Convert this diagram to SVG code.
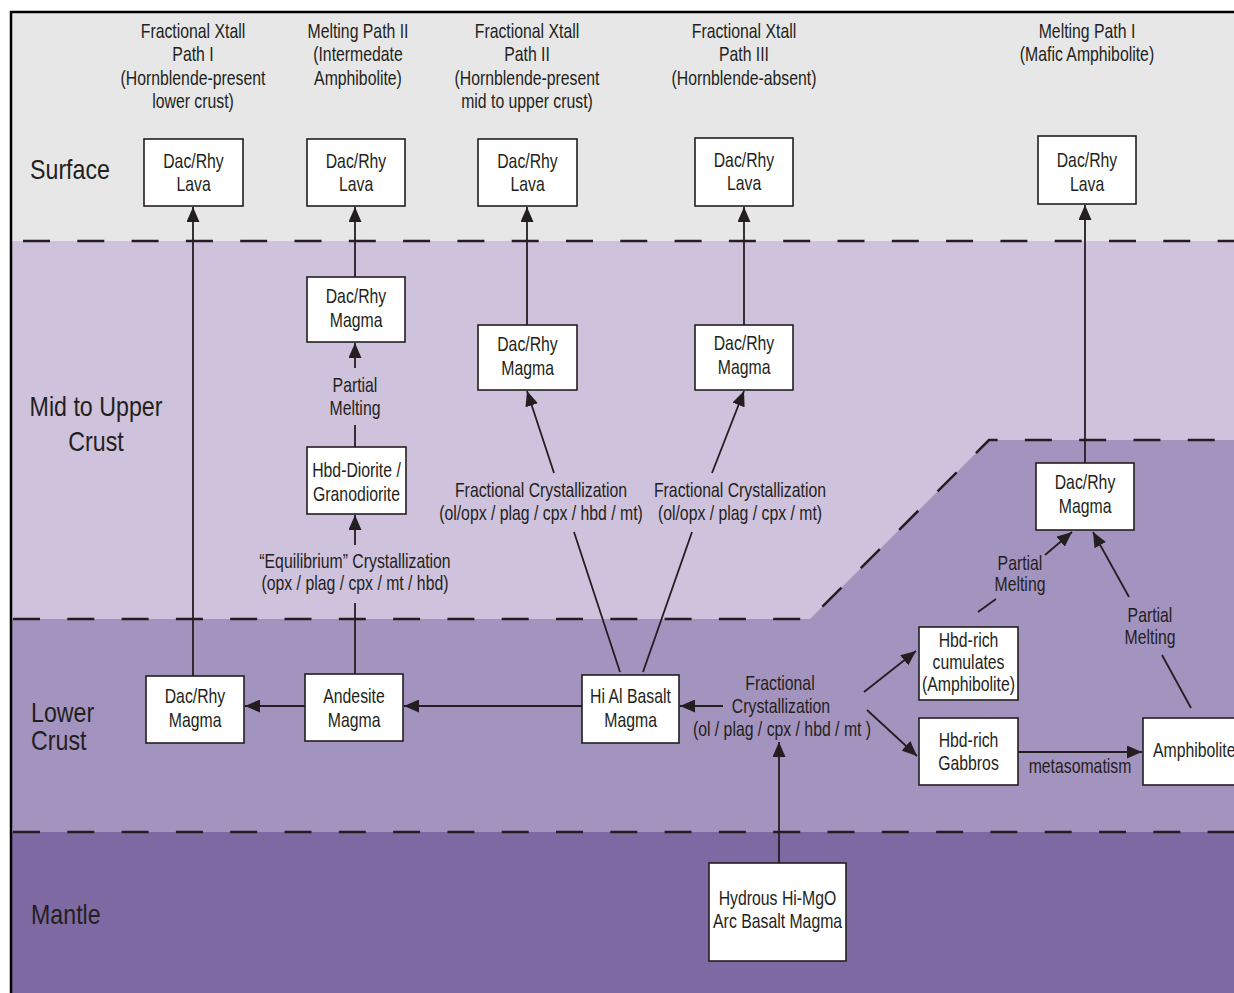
<svg xmlns="http://www.w3.org/2000/svg" width="1234" height="993" viewBox="0 0 1234 993">
<defs>
<style>
text{font-family:"Liberation Sans","Arial",sans-serif;font-size:20px;fill:#231f20;text-anchor:middle;transform-box:fill-box;transform-origin:50% 50%;transform:scaleX(0.79)}
.band{font-size:27px;text-anchor:start;transform-origin:0% 50%;transform:scaleX(0.86)}
.bandc{font-size:27px;transform:scaleX(0.86)}
.ls{text-anchor:start;transform-origin:0% 50%}
.box{fill:#fff;stroke:#231f20;stroke-width:1.6}
.c{fill:none;stroke:#231f20;stroke-width:1.8}
.a{marker-end:url(#ah)}
.dash{fill:none;stroke:#231f20;stroke-width:2.5;stroke-dasharray:27 27.3}
</style>
<marker id="ah" markerUnits="userSpaceOnUse" markerWidth="16" markerHeight="13" refX="15" refY="6.5" orient="auto">
<path d="M0,0 L15,6.5 L0,13 Z" fill="#231f20"/>
</marker>
</defs>
<rect x="0" y="0" width="1234" height="993" fill="#fff"/>
<g id="bands">
<rect x="11" y="12" width="1223" height="229" fill="#e7e7e7"/>
<rect x="11" y="241" width="1223" height="378" fill="#cfc2dd"/>
<path d="M11,619 L810,619 L989,440 L1234,440 L1234,832 L11,832 Z" fill="#a393bf"/>
<rect x="11" y="832" width="1223" height="161" fill="#7e69a3"/>
<path class="dash" d="M23,241 L1234,241"/>
<path class="dash" d="M13,619 L810,619 L989,440 L1234,440"/>
<path class="dash" d="M13,832 L1234,832"/>
<path d="M11,993 L11,12 L1234,12" fill="none" stroke="#000" stroke-width="2.5"/>
<text class="band" x="30" y="179">Surface</text>
<text class="bandc" x="96" y="416">Mid to Upper</text>
<text class="bandc" x="96" y="451">Crust</text>
<text class="band" x="31" y="722">Lower</text>
<text class="band" x="31" y="750">Crust</text>
<text class="band" x="31" y="924">Mantle</text>
</g>
<g id="headers">
<text x="193" y="38">Fractional Xtall</text>
<text x="193" y="61">Path I</text>
<text x="193" y="85">(Hornblende-present</text>
<text x="193" y="108">lower crust)</text>
<text x="358" y="38">Melting Path II</text>
<text x="358" y="61">(Intermedate</text>
<text x="358" y="85">Amphibolite)</text>
<text x="527" y="38">Fractional Xtall</text>
<text x="527" y="61">Path II</text>
<text x="527" y="85">(Hornblende-present</text>
<text x="527" y="108">mid to upper crust)</text>
<text x="744" y="38">Fractional Xtall</text>
<text x="744" y="61">Path III</text>
<text x="744" y="85">(Hornblende-absent)</text>
<text x="1087" y="38">Melting Path I</text>
<text x="1087" y="61">(Mafic Amphibolite)</text>
</g>
<g id="connectors">
<path class="c a" d="M193,676 L193,207"/>
<path class="c a" d="M355,277 L355,207"/>
<path class="c a" d="M355,368 L355,343"/>
<path class="c" d="M355,425 L355,447"/>
<path class="c a" d="M355,545 L355,515"/>
<path class="c" d="M355,603 L355,674"/>
<path class="c a" d="M305,706 L245,706"/>
<path class="c a" d="M582,706 L404,706"/>
<path class="c a" d="M723,706 L680,706"/>
<path class="c a" d="M779,863 L779,742"/>
<path class="c" d="M620,672 L574,532"/>
<path class="c a" d="M554,473 L527,391"/>
<path class="c" d="M643,672 L692,532"/>
<path class="c a" d="M712,473 L744,391"/>
<path class="c a" d="M527,325 L527,207"/>
<path class="c a" d="M744,325 L744,207"/>
<path class="c a" d="M1085,463 L1085,205"/>
<path class="c a" d="M864,692 L916,651"/>
<path class="c a" d="M867,710 L917,756"/>
<path class="c a" d="M1018,752 L1142,752"/>
<path class="c" d="M978,612 L996,599"/>
<path class="c a" d="M1045,555 L1072,532"/>
<path class="c" d="M1191,708 L1162,655"/>
<path class="c a" d="M1129,597 L1093,532"/>
<text x="355" y="392">Partial</text>
<text x="355" y="415">Melting</text>
<text x="355" y="568">“Equilibrium” Crystallization</text>
<text x="355" y="590">(opx / plag / cpx / mt / hbd)</text>
<text x="541" y="497">Fractional Crystallization</text>
<text x="541" y="520">(ol/opx / plag / cpx / hbd / mt)</text>
<text x="740" y="497">Fractional Crystallization</text>
<text x="740" y="520">(ol/opx / plag / cpx / mt)</text>
<text x="780" y="690">Fractional</text>
<text x="781" y="713">Crystallization</text>
<text x="782" y="736">(ol / plag / cpx / hbd / mt )</text>
<text x="1080" y="773">metasomatism</text>
<text x="1020" y="570">Partial</text>
<text x="1020" y="591">Melting</text>
<text x="1150" y="622">Partial</text>
<text x="1150" y="644">Melting</text>
</g>
<g id="lava1"><rect class="box" x="144" y="139" width="99" height="67"/><text x="193.5" y="168">Dac/Rhy</text><text x="193.5" y="191">Lava</text></g>
<g id="lava2"><rect class="box" x="307" y="139" width="98" height="67"/><text x="356" y="168">Dac/Rhy</text><text x="356" y="191">Lava</text></g>
<g id="lava3"><rect class="box" x="478" y="139" width="99" height="67"/><text x="527.5" y="168">Dac/Rhy</text><text x="527.5" y="191">Lava</text></g>
<g id="lava4"><rect class="box" x="695" y="138" width="98" height="68"/><text x="744" y="167">Dac/Rhy</text><text x="744" y="190">Lava</text></g>
<g id="lava5"><rect class="box" x="1038" y="136" width="98" height="68"/><text x="1087" y="167">Dac/Rhy</text><text x="1087" y="191">Lava</text></g>
<g id="magma2"><rect class="box" x="307" y="277" width="98" height="65"/><text x="356" y="303">Dac/Rhy</text><text x="356" y="327">Magma</text></g>
<g id="magma3"><rect class="box" x="478" y="325" width="99" height="65"/><text x="527.5" y="351">Dac/Rhy</text><text x="527.5" y="375">Magma</text></g>
<g id="magma4"><rect class="box" x="695" y="325" width="98" height="65"/><text x="744" y="350">Dac/Rhy</text><text x="744" y="374">Magma</text></g>
<g id="diorite"><rect class="box" x="307" y="447" width="99" height="67"/><text x="356.5" y="477">Hbd-Diorite /</text><text x="356.5" y="501">Granodiorite</text></g>
<g id="magma1"><rect class="box" x="146" y="676" width="98" height="67"/><text x="195" y="703">Dac/Rhy</text><text x="195" y="727">Magma</text></g>
<g id="andesite"><rect class="box" x="305" y="674" width="98" height="67"/><text x="354" y="703">Andesite</text><text x="354" y="727">Magma</text></g>
<g id="hialbasalt"><rect class="box" x="582" y="675" width="97" height="68"/><text x="630.5" y="703">Hi Al Basalt</text><text x="630.5" y="727">Magma</text></g>
<g id="magma5"><rect class="box" x="1036" y="463" width="98" height="67"/><text x="1085" y="489">Dac/Rhy</text><text x="1085" y="513">Magma</text></g>
<g id="cumulates"><rect class="box" x="919" y="627" width="99" height="73"/><text x="968.5" y="647">Hbd-rich</text><text x="968.5" y="669">cumulates</text><text x="968.5" y="691">(Amphibolite)</text></g>
<g id="gabbros"><rect class="box" x="919" y="718" width="99" height="67"/><text x="968.5" y="747">Hbd-rich</text><text x="968.5" y="770">Gabbros</text></g>
<g id="amphibolite"><rect class="box" x="1143" y="718" width="100" height="67"/><text class="ls" x="1153" y="757">Amphibolite</text></g>
<g id="hydrous"><rect class="box" x="709" y="863" width="137" height="98"/><text x="777.5" y="905">Hydrous Hi-MgO</text><text x="777.5" y="928">Arc Basalt Magma</text></g>
</svg>
